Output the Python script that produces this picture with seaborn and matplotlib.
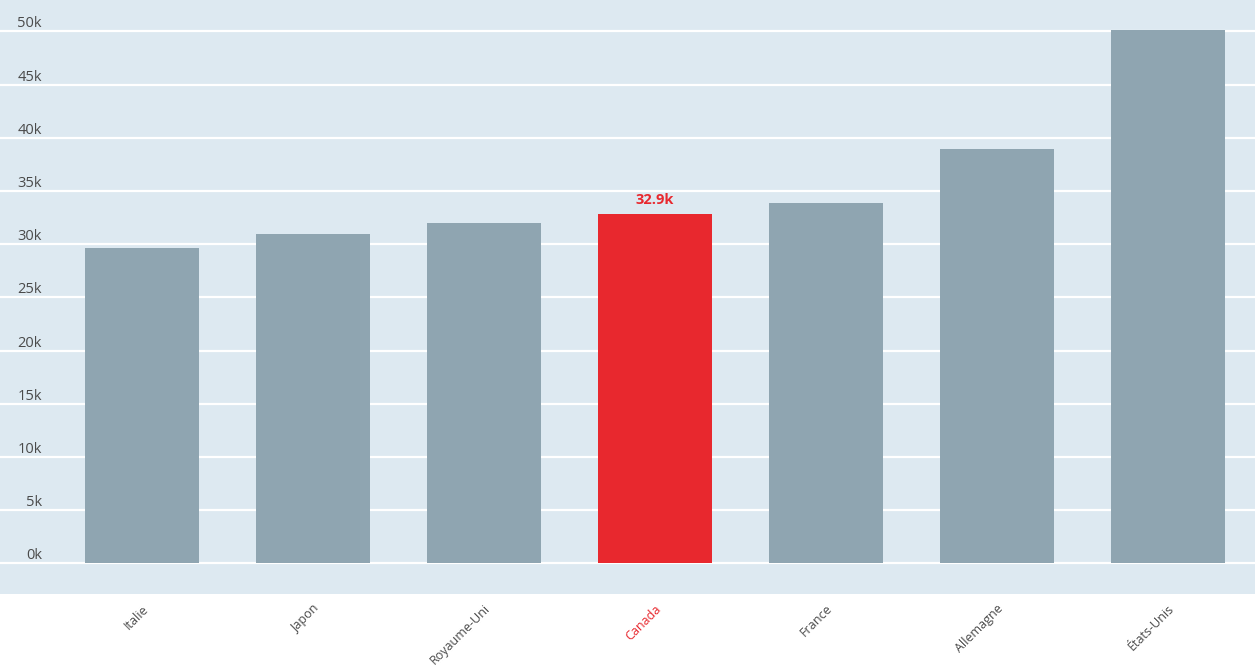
import matplotlib
matplotlib.use("Agg")
import matplotlib.pyplot as plt
import seaborn as sns
import pandas as pd

countries = ["Italie", "Japon", "Royaume-Uni", "Canada", "France", "Allemagne", "États-Unis"]
values = [29670, 30990, 32030, 32880, 33900, 38990, 50160]
highlight = "Canada"
ytick_values = [0, 5000, 10000, 15000, 20000, 25000, 30000, 35000, 40000, 45000, 50000]
ytick_labels = ["0k", "5k", "10k", "15k", "20k", "25k", "30k", "35k", "40k", "45k", "50k"]

BG = "#dde9f1"
BAR = "#8fa5b1"
RED = "#e8282e"
TXT = "#4a4a4a"

sns.set_theme(style="white")
plt.rcParams["font.family"] = ["Open Sans", "DejaVu Sans"]

df = pd.DataFrame({"country": countries, "value": values})
palette = {c: (RED if c == highlight else BAR) for c in countries}

fig = plt.figure(figsize=(12.55, 6.67), dpi=100)
fig.patch.set_facecolor("white")
ax = fig.add_axes([0, (667 - 594) / 667, 1, 594 / 667])
ax.set_facecolor(BG)

sns.barplot(data=df, x="country", y="value", hue="country", palette=palette,
            legend=False, width=0.667, saturation=1, linewidth=0, edgecolor="none",
            ax=ax, zorder=3)

ax.set_xlim(-0.83, 6.51)
ax.set_ylim(-2870, 52960)

ax.set_yticks(ytick_values)
ax.set_yticklabels(ytick_labels)
ax.yaxis.grid(True, color="white", linewidth=1.6, zorder=1)
ax.xaxis.grid(False)
ax.set_axisbelow(True)
for s in ax.spines.values():
    s.set_visible(False)

ax.tick_params(axis="y", length=0, pad=-42 * 72 / 100, labelsize=10.5, labelcolor=TXT)
for lbl in ax.get_yticklabels():
    lbl.set_verticalalignment("bottom")
    lbl.set_horizontalalignment("right")

ax.tick_params(axis="x", length=0, pad=6, labelsize=9, labelcolor=TXT)
for lbl in ax.get_xticklabels():
    lbl.set_rotation(45)
    lbl.set_ha("right")
    lbl.set_rotation_mode("anchor")
    if lbl.get_text() == highlight:
        lbl.set_color(RED)

ax.set_xlabel("")
ax.set_ylabel("")

i = countries.index(highlight)
v = values[i]
ax.annotate(f"{v/1000:.1f}k", xy=(i, v), xytext=(0, 5), textcoords="offset points",
            ha="center", va="bottom", color=RED, fontsize=10.5, fontweight="bold", zorder=5)

fig.savefig("out.png", dpi=100, facecolor="white")
